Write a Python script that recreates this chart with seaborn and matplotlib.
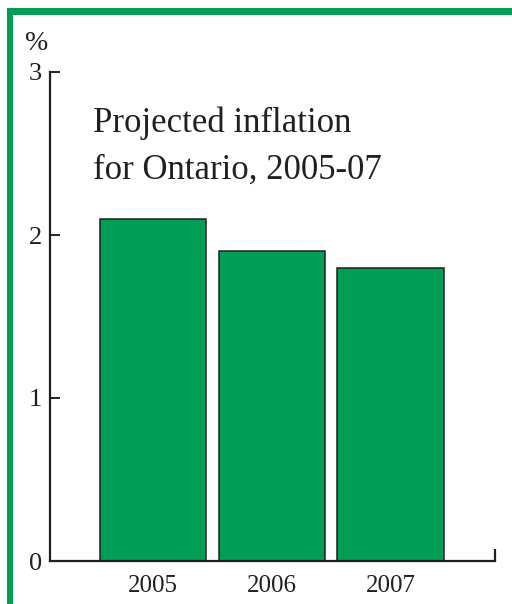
import matplotlib
matplotlib.use("Agg")
import matplotlib.pyplot as plt
from matplotlib.patches import Rectangle
import pandas as pd
import seaborn as sns

years = ["2005", "2006", "2007"]
inflation = [2.1, 1.9, 1.8]
y_ticks = [0, 1, 2, 3]
title_lines = ["Projected inflation", "for Ontario, 2005-07"]

GREEN = "#009e55"
INK = "#231f20"
W, H = 512, 604

sns.set_theme(style="white")
plt.rcParams["font.family"] = ["Liberation Serif", "DejaVu Serif"]

df = pd.DataFrame({"year": years, "inflation": inflation})

fig = plt.figure(figsize=(W / 100, H / 100), dpi=100)
fig.patch.set_facecolor("white")
ax = fig.add_axes([50 / W, (H - 561) / H, (495 - 50) / W, (561 - 72) / H])

sns.barplot(data=df, x="year", y="inflation", color=GREEN, saturation=1,
            width=0.895, edgecolor=INK, linewidth=1.1, ax=ax)

ax.set_xlim(-0.87, 2.88)
ax.set_ylim(0, 3)
ax.set_yticks(y_ticks)
ax.set_yticklabels([str(t) for t in y_ticks])
ax.set_xlabel("")
ax.set_ylabel("")

for side in ("top", "right"):
    ax.spines[side].set_visible(False)
for side in ("left", "bottom"):
    ax.spines[side].set_color(INK)
    ax.spines[side].set_linewidth(1.6)

ax.tick_params(axis="y", direction="in", length=7.5, width=1.4, color=INK,
               labelsize=19, labelcolor=INK, pad=6, left=True)
ax.tick_params(axis="x", length=0, labelsize=18, labelcolor=INK, pad=10)

# short upright stub closing the baseline at the right end
ax.plot([1, 1], [0, 12 / 489], transform=ax.transAxes, color=INK,
        lw=1.6, clip_on=False, solid_capstyle="butt")

# unit marker above the value axis
fig.text(37 / W, 1 - 44 / H, "%", ha="center", va="center",
         fontsize=20, color=INK)

# chart title inside the plot area
ax.text(93 / W, 1 - 123 / H, title_lines[0], transform=fig.transFigure,
        ha="left", va="center", fontsize=25, color=INK)
ax.text(93 / W, 1 - 170 / H, title_lines[1], transform=fig.transFigure,
        ha="left", va="center", fontsize=25, color=INK)

# green frame along the top and left edges
fig.patches.append(Rectangle((7 / W, 1 - 15 / H), 1 - 7 / W, 7 / H,
                             transform=fig.transFigure, color=GREEN, lw=0))
fig.patches.append(Rectangle((7 / W, 0), 6 / W, 1 - 8 / H,
                             transform=fig.transFigure, color=GREEN, lw=0))

fig.savefig("out.png", dpi=100)
